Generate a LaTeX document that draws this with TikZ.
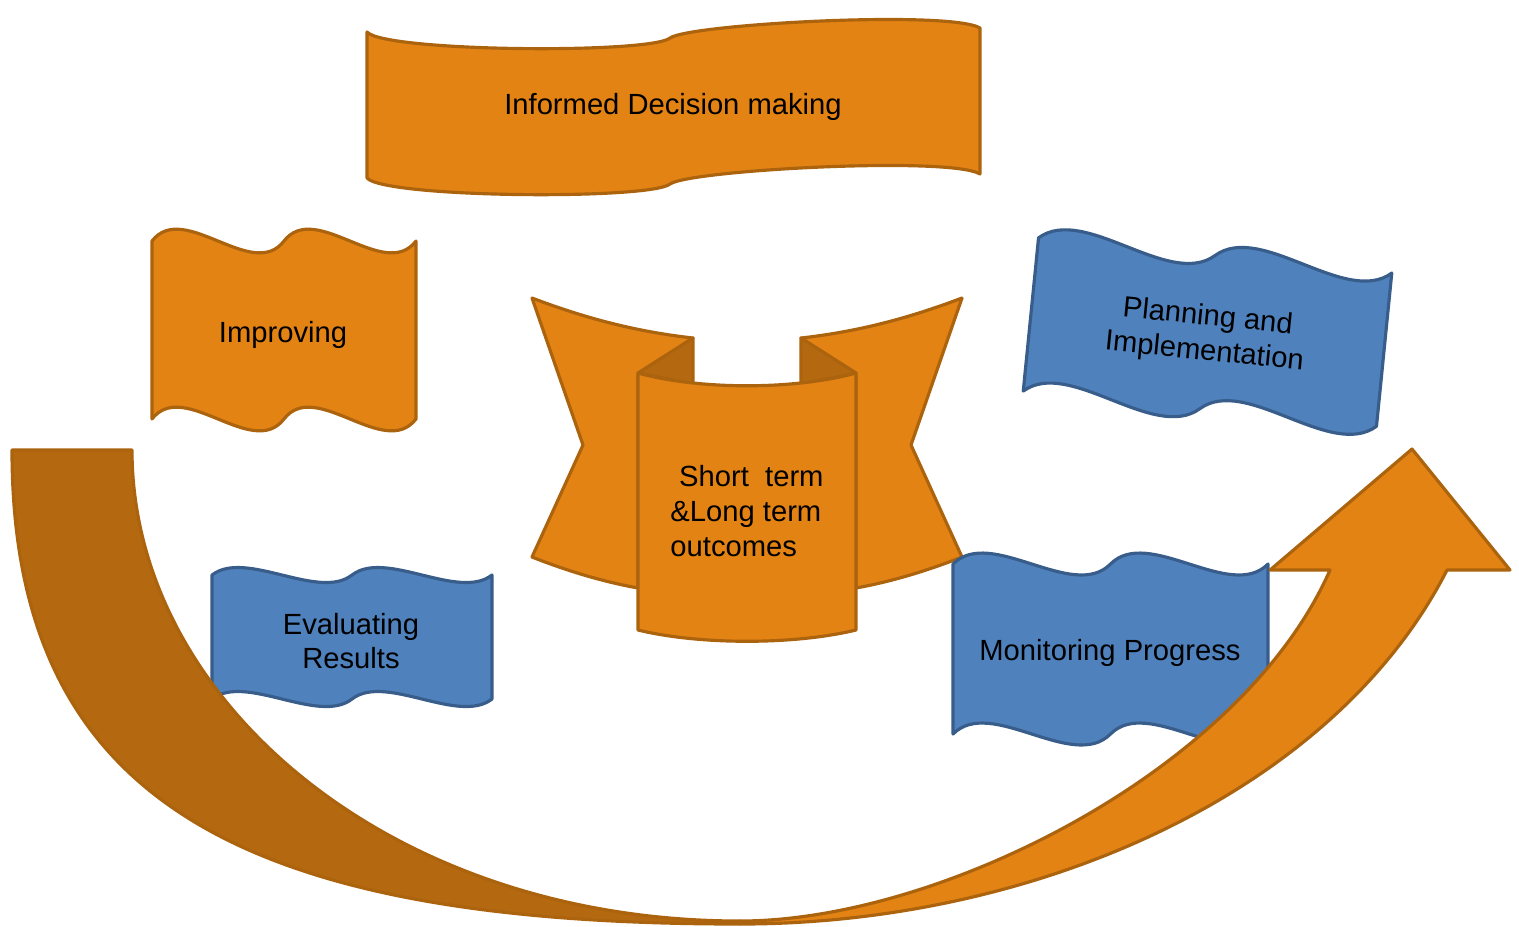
\documentclass[tikz,border=0pt]{standalone}
\usepackage{fontspec}
\setmainfont{Liberation Sans}
\usepackage{xcolor}
\usepackage{tikz}
\usetikzlibrary{calc}

\definecolor{flagorange}{RGB}{226,131,20}
\definecolor{flagbrown}{RGB}{172,99,14}
\definecolor{backorange}{RGB}{180,105,16}
\definecolor{flagblue}{RGB}{79,129,189}
\definecolor{flagnavy}{RGB}{56,93,138}

% wavy flag: style, left x, top y, width, height, swing
\newcommand{\waveflag}[6]{%
  \path[#1] (#2,#3)
    .. controls +({0.12*#4},-#6) and +({-0.12*#4},#6) .. ++({#4/2},0)
    .. controls +({0.12*#4},-#6) and +({-0.12*#4},#6) .. ++({#4/2},0)
    -- ++(0,#5)
    .. controls +({-0.12*#4},#6) and +({0.12*#4},-#6) .. ++({-#4/2},0)
    .. controls +({-0.12*#4},#6) and +({0.12*#4},-#6) .. ++({-#4/2},0)
    -- cycle;}

\begin{document}
\begin{tikzpicture}[
  x=0.01cm, y=-0.01cm,
  orangeshape/.style={fill=flagorange, draw=flagbrown, line width=0.9pt, line join=round},
  blueshape/.style={fill=flagblue, draw=flagnavy, line width=0.9pt, line join=round},
  fold/.style={fill=backorange, draw=flagbrown, line width=0.9pt, line join=round},
  lbl/.style={font=\fontsize{8.3}{9.9}\selectfont, inner sep=0pt, text=black}
]
  \useasboundingbox (0,0) rectangle (1519,926);

  % top banner
  \path[orangeshape] (367,32) .. controls (385,52) and (650,54) .. (670,38)
    .. controls (690,24) and (950,10) .. (980,28) -- (980,174)
    .. controls (950,156) and (690,170) .. (670,184)
    .. controls (650,200) and (385,198) .. (367,178) -- cycle;
  \node[lbl] (informed) at (673,107) {Informed Decision making};

  % side flags
  \waveflag{orangeshape}{152}{241}{264}{178}{41}
  \node[lbl] (improving) at (283,335) {Improving};

  % curved ribbon in the middle
  \path[orangeshape] (532,298) .. controls (590,320) and (640,332) .. (693,338)
    -- (638,376) -- (638,588) .. controls (605,582) and (570,572) .. (532,557)
    -- (583,445) -- cycle;
  \path[orangeshape] (962,298) .. controls (904,320) and (854,332) .. (801,338)
    -- (856,376) -- (856,588) .. controls (889,582) and (924,572) .. (962,557)
    -- (911,445) -- cycle;
  \path[fold] (693,338) -- (693,384) -- (638,373) -- cycle;
  \path[fold] (801,338) -- (801,384) -- (856,373) -- cycle;
  \path[orangeshape] (638,373) .. controls (700,390) and (794,390) .. (856,373)
    -- (856,630) .. controls (794,645) and (700,645) .. (638,630) -- cycle;
  \node[lbl, align=left] (outcomes) at (747,511)
    {\hspace*{0.3em}Short\ \ term\\\&Long term\\outcomes};

  \begin{scope}[shift={(1207,332)}, rotate=-5.7]
    \waveflag{blueshape}{-177}{-77}{355}{154}{38}
  \end{scope}
  \node[lbl, align=center, rotate=-5.7] (planning) at (1206,335)
    {Planning and\\Implementation};

  \waveflag{blueshape}{212}{575}{280}{124}{26}
  \node[lbl, align=center] (evaluating) at (351,641) {Evaluating\\Results};

  \waveflag{blueshape}{953}{564}{315}{170}{38}
  \node[lbl] (monitoring) at (1110,653) {Monitoring Progress};

  % curved arrow: back half, then front half with head
  \path[fold] (12,450) -- (132,450) .. controls (132,700) and (390,921) .. (740,921)
    -- (740,924) .. controls (240,924) and (12,800) .. (12,450) -- cycle;
  \path[orangeshape] (740,921) .. controls (940,921) and (1242,770) .. (1330,570)
    -- (1270,570) -- (1412,449) -- (1510,570) -- (1447,570)
    .. controls (1335,790) and (1040,924) .. (740,924) -- cycle;
\end{tikzpicture}
\end{document}
